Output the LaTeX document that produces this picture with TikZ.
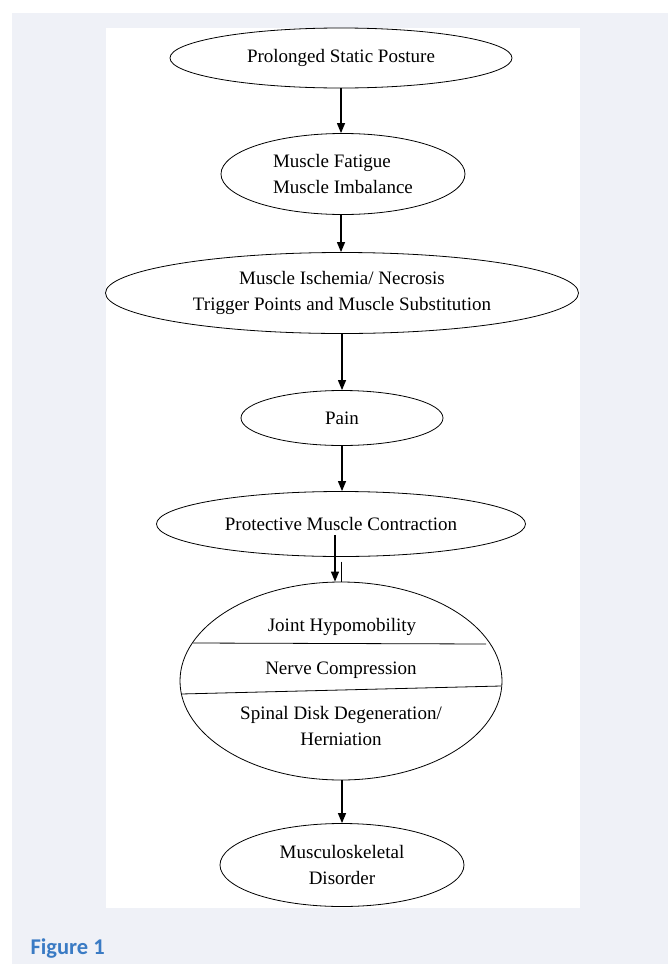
\documentclass[tikz,border=0pt]{standalone}
\usepackage{fontspec}
\setmainfont{Liberation Serif}
\newfontfamily\capfont{Carlito}
\usetikzlibrary{shapes.geometric,arrows.meta}
\definecolor{pagegray}{HTML}{EFF1F7}
\definecolor{capblue}{HTML}{3A7BC4}
\tikzset{
  oval/.style={ellipse,draw,line width=0.8pt,inner sep=0pt,align=center,
    font=\fontsize{19}{26}\selectfont},
  flow/.style={-{Triangle[length=10pt,width=8pt]},line width=1.2pt},
  intext/.style={font=\fontsize{19}{26}\selectfont,align=center}
}
\begin{document}
\begin{tikzpicture}[x=1pt,y=-1pt]
    \useasboundingbox(0,0) rectangle (668,964);
    \fill[pagegray](12,13) rectangle (668,964);
    \fill[white](106,28) rectangle (580,908);
    \node[oval,minimum width=342,minimum height=60](pos) at (341,58) {Prolonged Static Posture};
    \node[oval,minimum width=244,minimum height=81,align=left](fat) at (343,174) {Muscle Fatigue\\Muscle Imbalance};
    \node[oval,minimum width=473,minimum height=81](isc) at (342,293) {Muscle Ischemia/ Necrosis\\Trigger Points and Muscle Substitution};
    \node[oval,minimum width=202,minimum height=55](pain) at (342,418) {Pain};
    \node[oval,minimum width=369,minimum height=65](pmc) at (341,524) {Protective Muscle Contraction};
    \node[oval,minimum width=322,minimum height=198](dis) at (341,681) {};
    \node[oval,minimum width=244,minimum height=83](msd) at (342,865) {Musculoskeletal\\Disorder};
    % inside the big oval
    \node[intext](jnt) at (342,627) {Joint Hypomobility};
    \node[intext](nrv) at (341,670) {Nerve Compression};
    \node[intext](spn) at (341,726) {Spinal Disk Degeneration/\\Herniation};
    \draw[line width=0.8pt](193,643)--(486,644);
    \draw[line width=0.8pt](181,694)--(501,686);
    % arrows
    \draw[flow](pos.south)--(pos.south|-fat.north);
    \draw[flow](fat.south-|pos.south)--(pos.south|-isc.north);
    \draw[flow](isc.south)--(isc.south|-pain.north);
    \draw[flow](pain.south)--(pain.south|-pmc.north);
    \draw[flow]([xshift=-6pt,yshift=22pt]pmc.south)--([xshift=-6pt]dis.north);
    \draw[line width=0.8pt]([yshift=20pt]dis.north)--(dis.north);
    \draw[flow](dis.south-|msd.north)--(msd.north);
    \node[anchor=base west,text=capblue,font=\capfont\bfseries\fontsize{22.5}{26}\selectfont](cap) at (27,954) {Figure 1};
\end{tikzpicture}
\end{document}
